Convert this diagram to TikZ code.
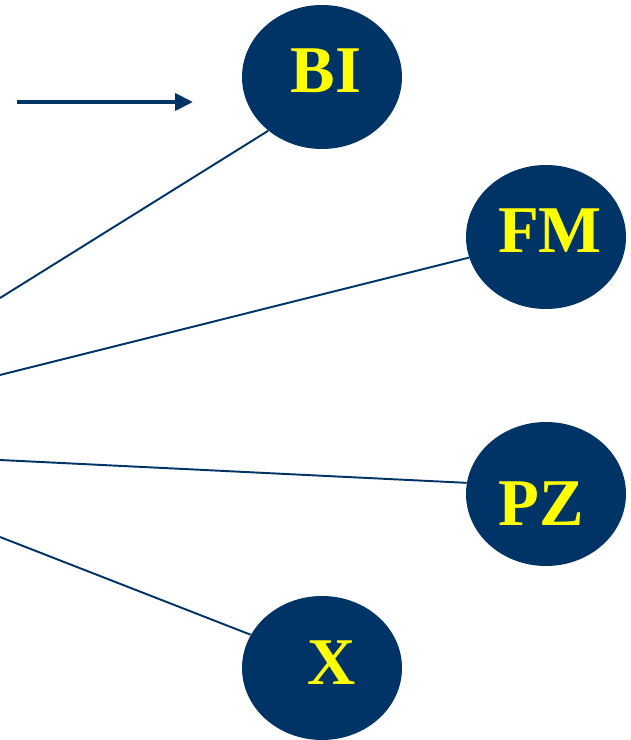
\documentclass[tikz,border=0pt]{standalone}
\usepackage{fontspec}
\setmainfont{Liberation Serif}
\usepackage{tikz}
\usetikzlibrary{shapes.geometric, arrows.meta}
\usepackage{xcolor}
\definecolor{navyNode}{RGB}{0,51,102}
\definecolor{yellowText}{RGB}{255,255,0}

\begin{document}
\begin{tikzpicture}[
    bubble/.style={ellipse, fill=navyNode, minimum width=3.2cm, minimum height=2.88cm, inner sep=0pt},
    tag/.style={text=yellowText, font=\fontsize{38}{40}\selectfont\bfseries, inner sep=0pt},
    spoke/.style={draw=navyNode, line width=1.1pt},
    >={Triangle[length=0.36cm, width=0.34cm]}
]
\useasboundingbox (0,0) rectangle (12.62,14.8);

\node[bubble] (bi) at (6.44,13.26) {};
\node[bubble] (fm) at (10.92,10.06) {};
\node[bubble] (pz) at (10.92,4.92) {};
\node[bubble] (x) at (6.44,1.44) {};

\node[tag, xshift=0.08cm, yshift=0.12cm] (biText) at (bi) {BI};
\node[tag, xshift=0.08cm, yshift=0.13cm] (fmText) at (fm) {FM};
\node[tag, xshift=-0.10cm, yshift=-0.19cm] (pzText) at (pz) {PZ};
\node[tag, xshift=0.20cm, yshift=0.10cm] (xText) at (x) {X};

% loose ends at the left border
\coordinate (s1) at (0,8.84);
\coordinate (s2) at (0,7.30);
\coordinate (s3) at (0,5.60);
\coordinate (s4) at (0,4.06);

\draw[spoke] (s1) -- (bi.225);
\draw[spoke] (s2) -- (fm.195);
\draw[spoke] (s3) -- (pz.172);
\draw[spoke] (s4) -- (x.155);

% arrow at the top
\coordinate (a1) at (0.34,12.76);
\coordinate (a2) at (3.86,12.76);
\draw[->, draw=navyNode, fill=navyNode, line width=2.3pt] (a1) -- (a2);
\end{tikzpicture}
\end{document}
